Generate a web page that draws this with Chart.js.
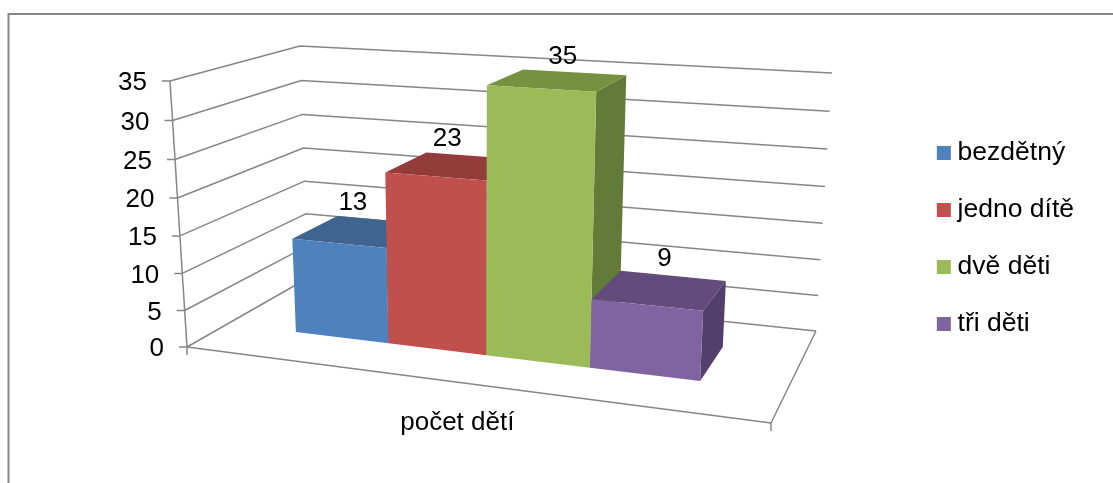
<!DOCTYPE html>
<html>
<head>
<meta charset="utf-8">
<style>html,body{margin:0;padding:0;background:#fff}canvas{display:block}</style>
<script src="https://cdn.jsdelivr.net/npm/chart.js@4"></script>
</head>
<body>
<canvas id="c" width="1113" height="483"></canvas>
<script>
// ---- data ----
const categories = ['počet dětí'];
const seriesNames = ['bezdětný', 'jedno dítě', 'dvě děti', 'tři děti'];
const bezdetny = [13];
const jednoDite = [23];
const dveDeti = [35];
const triDeti = [9];
const axisMax = 35;
const axisStep = 5;

// ---- styles ----
const frontColors = ['#4F81BD', '#C0504D', '#9BBB59', '#8064A2'];
const topColors   = ['#3F648F', '#933C3A', '#76913F', '#614C7C'];
const sideColors  = ['#375878', '#7F3331', '#637A38', '#533F6B'];
const lineColor = '#868686';
const FONT = '26px "Liberation Sans", Arial, sans-serif';
const labelNudgeX = [-1, -3, 7, 3];
const labelNudgeY = [-3, -3.5, -2, -2.5];

// ---- 3D frame of the plot: screen corners of the floor and the ceiling ----
const floorQuad = [[187,347],[771,423],[816,331],[308,278]];   // FL FR BR BL
const ceilQuad  = [[170,81],[788,120],[832,73],[300,46]];
const depthFront = 0.303, depthBack = 0.692, uShift = 0.003, heightWarp = 0.045;

function homography(q) {
  const [[x0,y0],[x1,y1],[x2,y2],[x3,y3]] = q;
  const dx1=x1-x2, dx2=x3-x2, sx=x0-x1+x2-x3, dy1=y1-y2, dy2=y3-y2, sy=y0-y1+y2-y3;
  const det=dx1*dy2-dx2*dy1;
  const g=(sx*dy2-dx2*sy)/det, h=(dx1*sy-sx*dy1)/det;
  const a=x1-x0+g*x1, b=x3-x0+h*x3, d=y1-y0+g*y1, e=y3-y0+h*y3;
  return (u,v)=>{const w=g*u+h*v+1;return [(a*u+b*v+x0)/w,(d*u+e*v+y0)/w];};
}
const floorH = homography(floorQuad), ceilH = homography(ceilQuad);
// u: across, d: depth, t: height fraction
function P(u,d,t){const a=floorH(u,d),b=ceilH(u,d);return [a[0]+(b[0]-a[0])*t,a[1]+(b[1]-a[1])*t];}

function poly(ctx,pts,fill){ctx.beginPath();pts.forEach((p,i)=>i?ctx.lineTo(p[0],p[1]):ctx.moveTo(p[0],p[1]));ctx.closePath();ctx.fillStyle=fill;ctx.fill();}
function line(ctx,pts){ctx.beginPath();pts.forEach((p,i)=>i?ctx.lineTo(p[0],p[1]):ctx.moveTo(p[0],p[1]));ctx.stroke();}

const scene3d = {
  id:'scene3d',
  beforeDraw(chart){
    const ctx=chart.ctx;
    ctx.save();
    ctx.strokeStyle=lineColor;ctx.lineWidth=2;
    ctx.beginPath();ctx.moveTo(8.5,483);ctx.lineTo(8.5,14);ctx.lineTo(1113,14);ctx.stroke();
    ctx.restore();
  },
  beforeDatasetDraw(){return false;},
  afterDatasetsDraw(chart){
    const ctx=chart.ctx, ys=chart.scales.y, xs=chart.scales.x, area=chart.chartArea;
    const frac=v=>{const t=(ys.bottom-ys.getPixelForValue(v))/(ys.bottom-ys.top);return t-heightWarp*t*(1-t);};
    ctx.save();
    ctx.strokeStyle=lineColor;ctx.lineWidth=1.5;ctx.lineJoin='round';
    // gridlines, ticks, tick labels
    ctx.font=FONT;ctx.fillStyle='#000';ctx.textAlign='right';ctx.textBaseline='middle';
    ys.ticks.forEach(tk=>{
      const t=frac(tk.value), fl=P(0,0,t), bl=P(0,1,t), br=P(1,1,t);
      line(ctx,[[fl[0]-8,fl[1]],fl,bl,br]);
      ctx.fillText(tk.label,fl[0]-23,fl[1]+2);
    });
    line(ctx,[P(0,0,0),P(0,0,1)]);
    // floor
    const f0=P(0,0,0),f1=P(1,0,0);
    line(ctx,[f0,f1,P(1,1,0)]);
    line(ctx,[f0,[f0[0],f0[1]+8]]);
    line(ctx,[f1,[f1[0],f1[1]+8]]);
    // bars
    chart.data.datasets.forEach((ds,i)=>{
      const el=chart.getDatasetMeta(i).data[0];
      const u0=(el.x-el.width/2-area.left)/area.width+uShift, u1=(el.x+el.width/2-area.left)/area.width+uShift;
      const t=frac(ds.data[0]);
      const d0=depthFront,d1=depthBack;
      poly(ctx,[P(u1,d0,0),P(u1,d1,0),P(u1,d1,t),P(u1,d0,t)],sideColors[i]);
      poly(ctx,[P(u0,d0,t),P(u1,d0,t),P(u1,d1,t),P(u0,d1,t)],topColors[i]);
      poly(ctx,[P(u0,d0,0),P(u1,d0,0),P(u1,d0,t),P(u0,d0,t)],frontColors[i]);
    });
    // value labels
    ctx.font=FONT;ctx.fillStyle='#000';ctx.textAlign='center';ctx.textBaseline='middle';
    chart.data.datasets.forEach((ds,i)=>{
      const el=chart.getDatasetMeta(i).data[0];
      const u=(el.x-area.left)/area.width+uShift, t=frac(ds.data[0]);
      const front=P(u,depthFront,t), back=P(u,depthBack,t);
      ctx.fillText(String(ds.data[0]),front[0]+15+labelNudgeX[i],back[1]-14+labelNudgeY[i]);
    });
    // category label
    const c=P((xs.getPixelForValue(0)-area.left)/area.width,0,0);
    ctx.fillText(xs.getLabelForValue(0),c[0]+3,c[1]+41);
    ctx.restore();
  }
};

const seriesValues=[bezdetny,jednoDite,dveDeti,triDeti];
new Chart(document.getElementById('c'),{
  type:'bar',
  data:{
    labels:categories,
    datasets:seriesNames.map((n,i)=>({label:n,data:seriesValues[i],backgroundColor:frontColors[i],borderWidth:0}))
  },
  options:{
    responsive:false,
    animation:false,
    barPercentage:1,
    categoryPercentage:0.725,
    layout:{padding:{left:170,right:29,top:60,bottom:66}},
    scales:{
      x:{grid:{display:false},border:{display:false},ticks:{display:false}},
      y:{min:0,max:axisMax,grid:{display:false},border:{display:false},ticks:{display:false,stepSize:axisStep}}
    },
    plugins:{
      tooltip:{enabled:false},
      legend:{
        position:'right',
        labels:{
          usePointStyle:true,pointStyle:'rect',boxWidth:1,boxHeight:14,padding:30.5,
          color:'#000',font:{size:26.5,family:'"Liberation Sans", Arial, sans-serif'}
        }
      }
    }
  },
  plugins:[scene3d]
});
</script>
</body>
</html>
